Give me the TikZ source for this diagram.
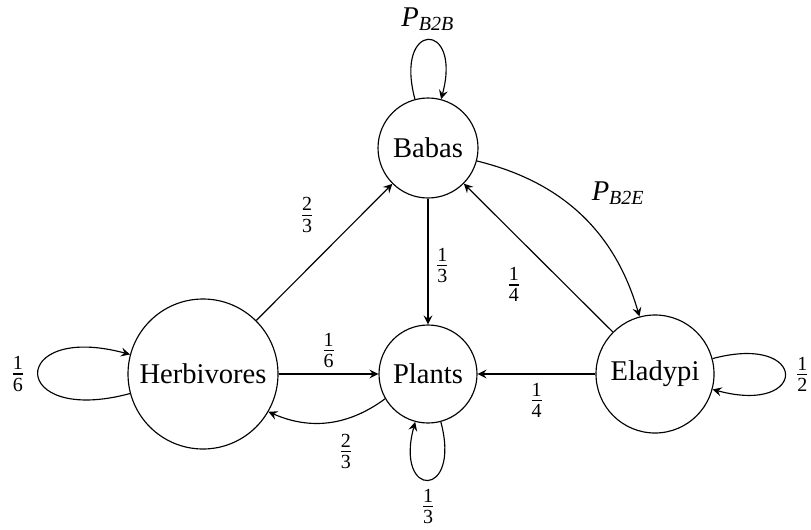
\documentclass[tikz,border=0pt]{standalone}
\usepackage{amsmath}
\usepackage{fontspec}
\setmainfont{Liberation Serif}
\newcommand{\fr}[2]{$\frac{\text{#1}}{\text{#2}}$}
\begin{document}
\begin{tikzpicture}[x=0.35pt,y=-0.35pt,>=stealth,
  state/.style={draw,circle,inner sep=0pt,line width=0.4pt},
  edge/.style={->,line width=0.4pt},
  lbl/.style={inner sep=0pt}]
\useasboundingbox (0,0) rectangle (811,529);
\node[state,minimum size=35pt] (B) at (428,148) {Babas};
\node[state,minimum size=34.3pt] (P) at (428,374) {Plants};
\node[state,minimum size=52.5pt] (H) at (203,374) {Herbivores};
\node[state,minimum size=41.3pt] (E) at (655,374) {Eladypi};

\draw[edge] (B) to[loop above,looseness=8] node[above=3pt,lbl] {\textit{P}$_{\textit{B2B}}$} (B);
\draw[edge] (H) to[loop left,looseness=8.3] node[left=4pt,lbl] {\fr{1}{6}} (H);
\draw[edge] (P) to[loop below,looseness=8] node[below=3pt,lbl] {\fr{1}{3}} (P);
\draw[edge] (E) to[loop right,looseness=8.3] node[right=3pt,lbl] {\fr{1}{2}} (E);

\draw[edge] (B) -- node[lbl,pos=0.53,xshift=5pt] {\fr{1}{3}} (P);
\draw[edge] (H) -- node[lbl,pos=0.5,xshift=-6pt,yshift=13pt] {\fr{2}{3}} (B);
\draw[edge] (H) -- node[lbl,above=2pt] {\fr{1}{6}} (P);
\draw[edge] (P) to[bend left=30] node[lbl,pos=0.35,below=5pt] {\fr{2}{3}} (H);
\draw[edge] (E) -- node[lbl,below=3pt] {\fr{1}{4}} (P);
\draw[edge] (E) -- node[lbl,pos=0.53,xshift=-7pt,yshift=-11pt] {\fr{1}{4}} (B);
\draw[edge] (B) to[bend left=30] node[lbl,pos=0.45,xshift=16pt,yshift=5pt] {\textit{P}$_{\textit{B2E}}$} (E);
\end{tikzpicture}
\end{document}
